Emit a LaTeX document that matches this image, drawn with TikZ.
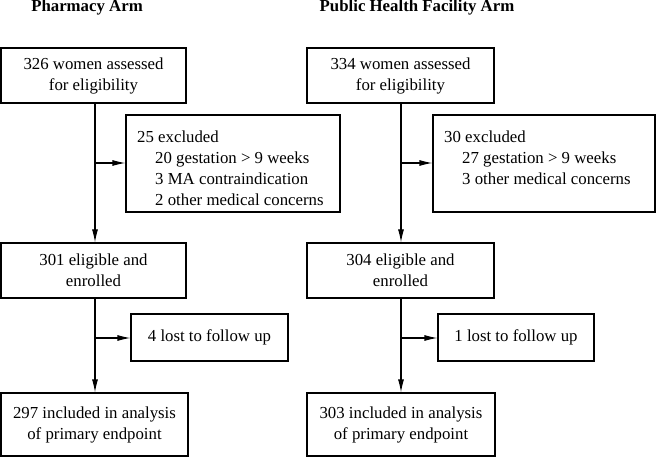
\documentclass[tikz,border=0pt]{standalone}
\usepackage{fontspec}
\setmainfont{Liberation Serif}
\usetikzlibrary{arrows.meta}
\tikzset{
flow box/.style = { rectangle, draw = black, line width = 1.1pt, fill = white, align = center, inner sep = 0pt, font = \fontsize{16.8}{21}\selectfont },
note text/.style = { anchor = north west, align = left, inner sep = 0pt, font = \fontsize{16.8}{21}\selectfont },
arm title/.style = { anchor = base, inner sep = 0pt, font = \bfseries\fontsize{16.8}{21}\selectfont },
flow line/.style = { draw = black, line width = 1.1pt },
flow arrow/.style = { flow line, -{Latex[length = 13pt, width = 6pt]} },
}
\newcommand{\ind}{\hspace*{18pt}}
\begin{document}
\begin{tikzpicture}[x = 1pt, y = -1pt]
    \useasboundingbox (0, 0) rectangle (656, 457);
    % pharmacy arm
    \node[arm title] (titleA) at (87, 12) {Pharmacy Arm};
    \node[flow box, minimum width = 185pt, minimum height = 55pt] (assessA) at (93.5, 75.5) {326 women assessed\\for eligibility};
    \node[flow box, minimum width = 214pt, minimum height = 97pt] (exclA) at (233, 163.5) {};
    \node[note text] (exclAtext) at (137, 131) {25 excluded\\\ind 20 gestation > 9 weeks\\\ind 3 MA contraindication\\\ind 2 other medical concerns};
    \node[flow box, minimum width = 185pt, minimum height = 55pt] (enrolA) at (93.5, 270.5) {301 eligible and\\enrolled};
    \node[flow box, minimum width = 157pt, minimum height = 47pt] (lostA) at (209.5, 337.5) {4 lost to follow up};
    \node[flow box, minimum width = 187pt, minimum height = 63pt] (finalA) at (94.5, 424.5) {297 included in analysis\\of primary endpoint};
    \coordinate (splitA1) at (95, 163);
    \coordinate (splitA2) at (95, 338);
    \draw[flow arrow] (assessA.south -| splitA1) -- (enrolA.north -| splitA1);
    \draw[flow arrow] (splitA1) -- (splitA1 -| exclA.west);
    \draw[flow arrow] (enrolA.south -| splitA2) -- (finalA.north -| splitA2);
    \draw[flow arrow] (splitA2) -- (splitA2 -| lostA.west);
    % public health facility arm
    \node[arm title] (titleB) at (417, 12) {Public Health Facility Arm};
    \node[flow box, minimum width = 187pt, minimum height = 55pt] (assessB) at (400.5, 75.5) {334 women assessed\\for eligibility};
    \node[flow box, minimum width = 222pt, minimum height = 97pt] (exclB) at (544, 163.5) {};
    \node[note text] (exclBtext) at (444, 131) {30 excluded\\\ind 27 gestation > 9 weeks\\\ind 3 other medical concerns};
    \node[flow box, minimum width = 187pt, minimum height = 55pt] (enrolB) at (400.5, 270.5) {304 eligible and\\enrolled};
    \node[flow box, minimum width = 156pt, minimum height = 47pt] (lostB) at (516, 337.5) {1 lost to follow up};
    \node[flow box, minimum width = 188pt, minimum height = 63pt] (finalB) at (401, 424.5) {303 included in analysis\\of primary endpoint};
    \coordinate (splitB1) at (401, 163);
    \coordinate (splitB2) at (401, 338);
    \draw[flow arrow] (assessB.south -| splitB1) -- (enrolB.north -| splitB1);
    \draw[flow arrow] (splitB1) -- (splitB1 -| exclB.west);
    \draw[flow arrow] (enrolB.south -| splitB2) -- (finalB.north -| splitB2);
    \draw[flow arrow] (splitB2) -- (splitB2 -| lostB.west);
\end{tikzpicture}
\end{document}
